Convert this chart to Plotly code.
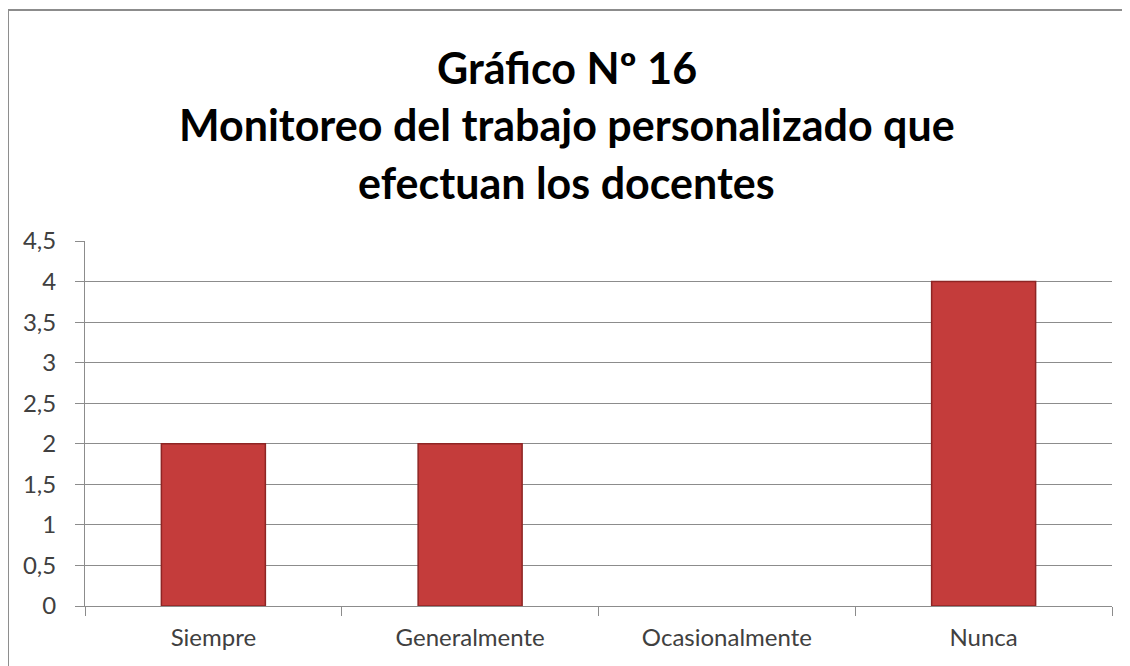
import plotly.graph_objects as go

CATEGORIES = ["Siempre", "Generalmente", "Ocasionalmente", "Nunca"]
VALUES = [2, 2, 0, 4]
Y_TICKS = [0, 0.5, 1, 1.5, 2, 2.5, 3, 3.5, 4, 4.5]

TITLE_LINES = [
    "Gráfico Nº 16",
    "Monitoreo del trabajo personalizado que",
    "efectuan los docentes",
]

BAR_COLOR = "#C43C3B"
BAR_EDGE = "#8E2524"
GRID_COLOR = "#8C8C8C"
TEXT_COLOR = "#404040"
FONT = "Lato, 'Open Sans', sans-serif"

fig = go.Figure(
    go.Bar(
        x=CATEGORIES,
        y=VALUES,
        marker={
            "color": BAR_COLOR,
            # no outline on empty bars, so a zero value stays invisible
            "line": {"color": BAR_EDGE, "width": [1.5 if v else 0 for v in VALUES]},
        },
        width=0.405,
    )
)

# title drawn as three lines to match the wide line spacing of the original
title_y = [1.475, 1.318, 1.16]
for line, y in zip(TITLE_LINES, title_y):
    fig.add_annotation(
        text=f"<b>{line}</b>",
        x=0.469,
        y=y,
        xref="paper",
        yref="paper",
        showarrow=False,
        font={"size": 43, "color": "#000000", "family": FONT},
        xanchor="center",
        yanchor="middle",
    )

# outer chart frame
fig.add_shape(
    type="rect",
    xref="paper",
    yref="paper",
    x0=-0.075,
    x1=1.0127,
    y0=-0.25,
    y1=1.633,
    line={"color": "#8C8C8C", "width": 2},
    layer="below",
)

# page body has an 8px margin, so margins are shifted to compensate
fig.update_layout(
    width=1130,
    height=666,
    margin=dict(l=77, r=26, t=233, b=68),
    paper_bgcolor="white",
    plot_bgcolor="white",
    showlegend=False,
    separators=", ",
    font={"family": FONT, "size": 24, "color": TEXT_COLOR},
    xaxis={
        "showgrid": False,
        "showline": True,
        "linecolor": GRID_COLOR,
        "linewidth": 1,
        "ticks": "outside",
        "tickson": "boundaries",
        "ticklen": 9,
        "tickcolor": GRID_COLOR,
        "ticklabelstandoff": 10,
        "tickfont": {"size": 24, "color": TEXT_COLOR},
    },
    yaxis={
        "range": [0, 4.5],
        "tickvals": Y_TICKS,
        "tickformat": ".1~f",
        "showgrid": True,
        "gridcolor": GRID_COLOR,
        "gridwidth": 1,
        "zeroline": False,
        "showline": True,
        "linecolor": GRID_COLOR,
        "linewidth": 1,
        "ticks": "outside",
        "ticklen": 9,
        "tickcolor": GRID_COLOR,
        "ticklabelstandoff": 14,
        "tickfont": {"size": 24, "color": TEXT_COLOR},
    },
)

fig.write_html("out.html")
